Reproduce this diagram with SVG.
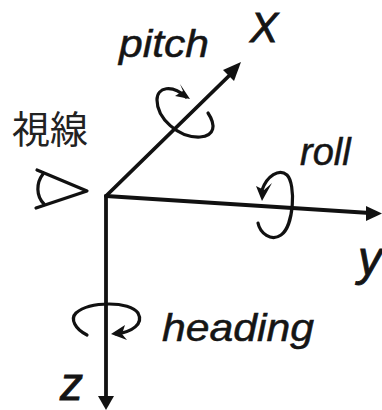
<svg xmlns="http://www.w3.org/2000/svg" width="382" height="410" viewBox="0 0 382 410">
<style>
.l{fill:none;stroke:#111;stroke-linecap:round;stroke-linejoin:round}
.a{stroke-width:3.8}
.c{stroke-width:3.2}
.h{fill:#111;stroke:none}
.t{font-family:"Liberation Sans",Arial,sans-serif;font-style:italic;fill:#151515;stroke:#151515;stroke-width:.5}
.b{stroke-width:.9}
.j{font-family:"Noto Sans CJK JP","Noto Sans CJK SC",sans-serif;fill:#222;font-size:38px}
</style>
<rect width="382" height="410" fill="#fff"/>
<g id="connectors">
<path class="l a" d="M106 196L236 69"/><path class="h" d="M241 62L234 81L223 70Z"/>
<path class="l a" d="M106 196L370 213"/><path class="h" d="M382 213.500L366 221L366 206Z"/>
<path class="l a" d="M106 196V400"/><path class="h" d="M106 410L98 396L114 396Z"/>
</g>
<g id="pitch-rotation">
<path class="l c" d="M186 97C172 84 157 87 157 100C157 118 178 138 200 137C215 136 216 125 208 113"/>
<path class="h" d="M190 99L175 96L183 91L180 84Z"/>
</g>
<g id="roll-rotation">
<path class="l c" d="M262 190C267 176 279 168 287 175C296 184 294 226 281 235C271 242 260 233 258 223"/>
<path class="h" d="M262 201L256 186L264 190L272 183Z"/>
</g>
<g id="heading-rotation">
<path class="l c" d="M87 335C75 329 70 319 76 313C90 301 130 301 138 313C144 324 132 332 116 334"/>
<path class="h" d="M111 334L125 325L122 334L127 340Z"/>
</g>
<g id="eye">
<path class="l c" d="M37 170L87 191L36 208"/>
<path class="l c" d="M43 174C36 183 36 196 44 204"/>
</g>
<g id="labels">
<text class="t" x="119" y="57" font-size="38" textLength="90" lengthAdjust="spacingAndGlyphs">pitch</text>
<text class="t b" x="250" y="42" font-size="42">X</text>
<text class="j" x="12" y="143" textLength="76" lengthAdjust="spacingAndGlyphs">視線</text>
<text class="t" x="300" y="165" font-size="38">roll</text>
<text class="t b" x="358" y="275" font-size="48">y</text>
<text class="t" x="162" y="341" font-size="38" textLength="152" lengthAdjust="spacingAndGlyphs">heading</text>
<text class="t b" x="60" y="400" font-size="46">z</text>
</g>
</svg>
